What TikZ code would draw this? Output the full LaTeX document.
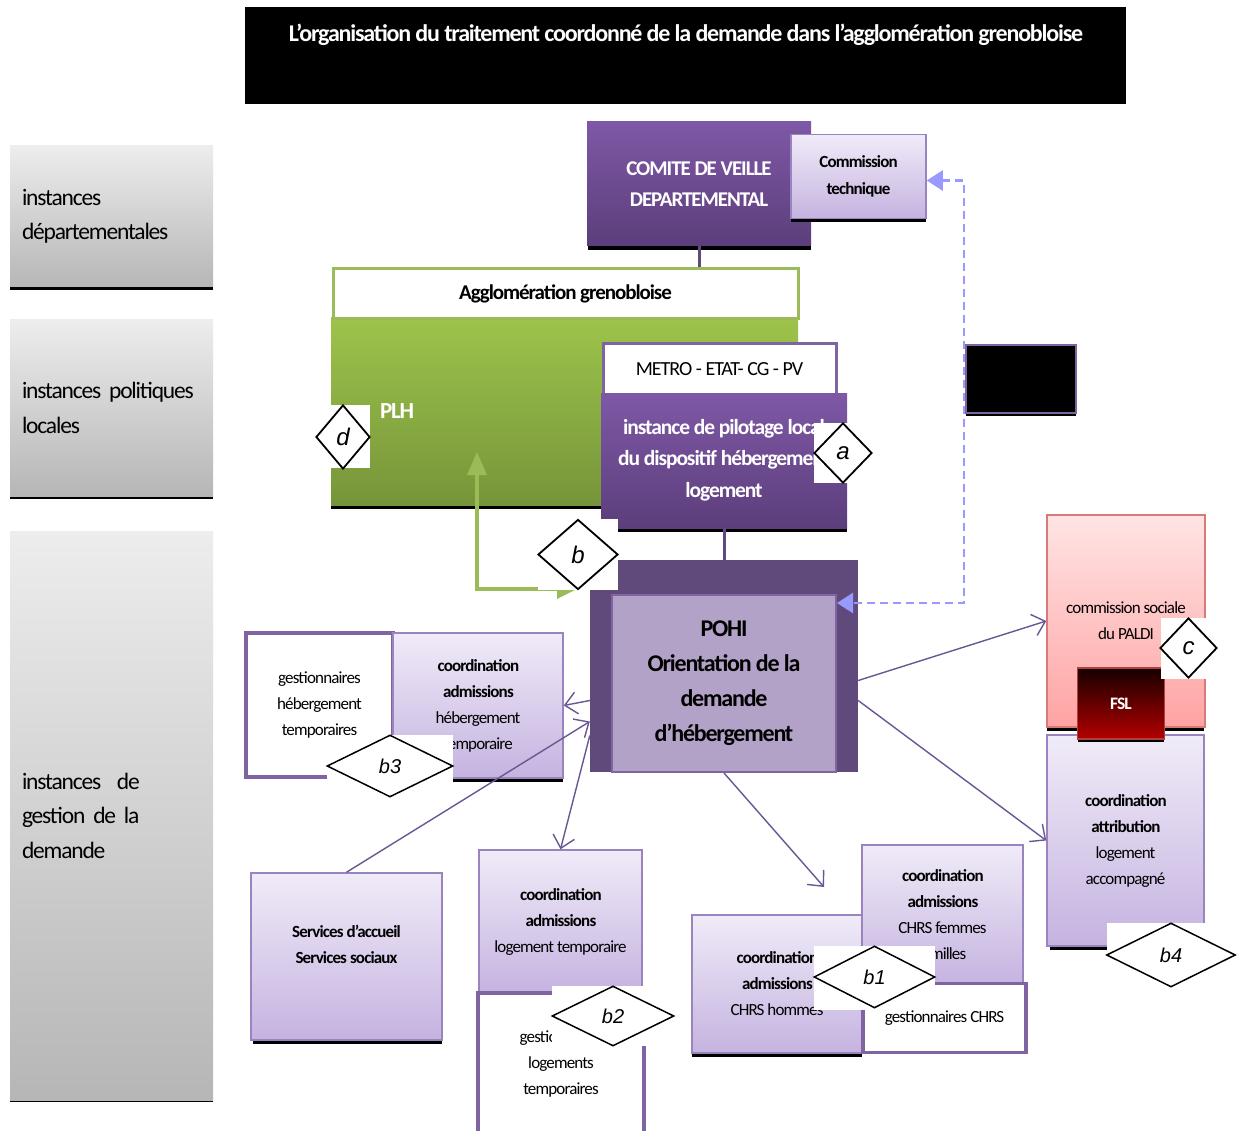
\documentclass[tikz,border=0pt]{standalone}
\usepackage{fontspec}
\setmainfont{Carlito}[LetterSpace=-5]
\newfontfamily\tagfont{Liberation Sans}
\usetikzlibrary{shapes.geometric,arrows.meta,calc}

\definecolor{purT}{HTML}{7E58A6}
\definecolor{purB}{HTML}{5C3E7B}
\definecolor{pohiD}{HTML}{604A7B}
\definecolor{pohiL}{HTML}{B3A2C7}
\definecolor{purD}{HTML}{8064A2}
\definecolor{lavT}{HTML}{F0EBF8}
\definecolor{lavB}{HTML}{C5B3E0}
\definecolor{lavD}{HTML}{9A84BF}
\definecolor{grnT}{HTML}{9DC34B}
\definecolor{grnB}{HTML}{76953A}
\definecolor{grnL}{HTML}{9BBB59}
\definecolor{pnkT}{HTML}{FFE4E4}
\definecolor{pnkB}{HTML}{FFA3A3}
\definecolor{pnkD}{HTML}{D77A7A}
\definecolor{fslT}{HTML}{160000}
\definecolor{fslB}{HTML}{B40000}
\definecolor{fslD}{HTML}{B04040}
\definecolor{grayT}{HTML}{EDEDED}
\definecolor{grayB}{HTML}{B6B6B6}
\definecolor{linkC}{HTML}{6B5694}
\definecolor{dashC}{HTML}{9999FF}

\begin{document}
\begin{tikzpicture}[x=1pt,y=-1pt,
  box/.style={rectangle, inner sep=0pt, align=center},
  level/.style={box, top color=grayT, bottom color=grayB, align=left,
    text width=179pt, inner xsep=12pt, minimum width=203pt,
    font=\fontsize{23.5}{34.5}\selectfont},
  purp/.style={box, top color=purT, bottom color=purB, text=white,
    font=\bfseries\fontsize{21}{31}\selectfont},
  lav/.style={box, top color=lavT, bottom color=lavB, draw=lavD, line width=1.5pt,
    font=\fontsize{17}{26}\selectfont},
  wbox/.style={box, fill=white, draw=purD, line width=3.5pt,
    font=\fontsize{17}{26}\selectfont},
  tag/.style={diamond, draw=black, line width=1.8pt, fill=white, inner sep=0pt,
    font=\tagfont\itshape\fontsize{24}{24}\selectfont},
  tagsmall/.style={tag, line width=1.5pt, font=\tagfont\itshape\fontsize{20}{20}\selectfont},
  conn/.style={draw=pohiD, line width=3pt},
  link/.style={draw=linkC, line width=1.4pt, -{Straight Barb[length=12pt,width=22pt]}},
  shadowbar/.style={fill=black}
]
\useasboundingbox (0,0) rectangle (1242,1131);
\clip (0,0) rectangle (1242,1131);
\fill[white] (0,0) rectangle (1242,1131);

% title banner
\node[box, fill=black, minimum width=881pt, minimum height=97pt] (titlebox) at (685.5,55.5) {};
\node[text=white, font=\bfseries\fontsize{24}{28}\selectfont] (title) at (686,35)
  {L'organisation du traitement coordonné de la demande dans l'agglomération grenobloise};

% level labels on the left
\fill[shadowbar] (10,286) rectangle (213,290);
\node[level, minimum height=141pt] (lvl1) at (111.5,216.5) {instances\\départementales};
\fill[shadowbar] (10,495) rectangle (213,499);
\node[level, minimum height=176pt] (lvl2) at (111.5,408) {instances politiques\\locales};
\fill[shadowbar] (10,1098) rectangle (213,1102);
\node[level, minimum height=569pt] (lvl3) at (111.5,815.5) {instances\ \ de\\gestion de la\\demande};

% departmental committee
\fill[shadowbar] (588,245) rectangle (811,250);
\node[purp, minimum width=224pt, minimum height=124pt] (comite) at (699,184) {COMITE DE VEILLE\\DEPARTEMENTAL};
\fill[shadowbar] (791,217) rectangle (926,222);
\node[lav, font=\bfseries\fontsize{17}{27}\selectfont, minimum width=135pt, minimum height=84pt]
  (ct) at (858.5,176.5) {Commission\\technique};

% local level: PLH and steering body
\fill[shadowbar] (331,503) rectangle (601,509);
\node[box, top color=grnT, bottom color=grnB, minimum width=467pt, minimum height=187pt,
  text width=369pt, inner xsep=49pt, align=left, text=white,
  font=\bfseries\fontsize{23}{27}\selectfont] (plh) at (564.5,411.5) {PLH};
\node[box, fill=white, draw=grnL, line width=3pt, minimum width=465pt, minimum height=50pt,
  font=\bfseries\fontsize{21}{25}\selectfont] (agglo) at (565.5,294) {Agglomération grenobloise};
\draw[conn] (comite.south) -- (comite.south |- agglo.north);

\node[box, fill=white, draw=purD, line width=3pt, minimum width=233pt, minimum height=50pt,
  font=\fontsize{20}{24}\selectfont] (metro) at (719.5,369) {METRO - ETAT- CG - PV};
\fill[shadowbar] (601,526) rectangle (847,532);
\node[box, top color=purT, bottom color=purB, minimum width=246pt, minimum height=135pt] (pilot) at (724,460.5) {};
\node[text=white, align=center, inner sep=0pt, font=\bfseries\fontsize{21.5}{31.5}\selectfont]
  (pilotT) at (724,460) {instance de pilotage local\\du dispositif hébergement\\logement};

% unlabelled black block
\fill[shadowbar] (966,411) rectangle (1076,416);
\node[box, fill=black, draw=purD, line width=2pt, minimum width=110pt, minimum height=68pt] (blk) at (1021,379) {};

% POHI
\node[box, fill=pohiD, minimum width=241pt, minimum height=212pt] (pohitop) at (737.5,666) {};
\node[box, fill=pohiD, minimum width=268pt, minimum height=183pt] (pohiback) at (724,680.5) {};
\draw[conn] (pilot.south) -- (pilot.south |- pohitop.north);
\node[box, fill=pohiL, draw=purD, line width=2pt, minimum width=224pt, minimum height=177pt,
  font=\bfseries\fontsize{24}{35}\selectfont] (pohi) at (724,683.5)
  {POHI\\Orientation de la\\demande\\d'hébergement};

% feedback loop to the technical commission
\coordinate (dturn) at (964,400);
\draw[dashC, line width=2.5pt, dash pattern=on 8pt off 5pt,
  {Triangle[length=16pt,width=20pt]}-{Triangle[length=16pt,width=20pt]}]
  ([yshift=-4pt]ct.east) -| (dturn) |- ([yshift=-9pt]pohi.north east);

% link between POHI and PLH
\coordinate (gEnd) at (577,589);
\coordinate (gTop) at (477,452);
\draw[grnL, line width=3.5pt, {Triangle[length=20pt,width=19pt]}-{Triangle[length=23pt,width=19pt]}]
  (gEnd) -| (gTop);

% PALDI social commission, FSL and supported housing
\fill[shadowbar] (1047,725) rectangle (1204,731);
\node[box, top color=pnkT, bottom color=pnkB, draw=pnkD, line width=1.5pt,
  minimum width=158pt, minimum height=212pt, font=\fontsize{17}{26}\selectfont]
  (csoc) at (1126,621) {commission sociale\\du PALDI};
\fill[shadowbar] (1050,944) rectangle (1108,950);
\node[lav, minimum width=157pt, minimum height=211pt] (attr) at (1125.5,840.5)
  {\textbf{coordination}\\\textbf{attribution}\\logement\\accompagné};
\fill[shadowbar] (1078,737) rectangle (1164,742);
\node[box, top color=fslT, bottom color=fslB, draw=fslD, line width=1.5pt,
  minimum width=87pt, minimum height=71pt, text=white,
  font=\bfseries\fontsize{17.5}{20}\selectfont] (fsl) at (1121,703.5) {FSL};

% temporary accommodation
\node[wbox, minimum width=147pt, minimum height=144pt] (gestH) at (319.5,705)
  {gestionnaires\\hébergement\\temporaires};
\fill[shadowbar] (453,776) rectangle (563,782);
\node[lav, minimum width=170pt, minimum height=145pt] (coordH) at (478,705.5)
  {\textbf{coordination}\\\textbf{admissions}\\hébergement\\temporaire};

% reception and social services
\fill[shadowbar] (253,1038) rectangle (442,1044);
\node[lav, minimum width=191pt, minimum height=167pt] (serv) at (346.5,956.5) {};
\node[align=center, inner sep=0pt, font=\bfseries\fontsize{17}{26}\selectfont]
  (servT) at (346.5,944) {Services d'accueil\\Services sociaux};

% temporary housing
\node[lav, minimum width=163pt, minimum height=143pt] (coordL) at (560.5,921.5)
  {\textbf{coordination}\\\textbf{admissions}\\logement temporaire};
\node[wbox, minimum width=166pt, minimum height=142pt] (gestL) at (561,1064)
  {gestionnaires\\logements\\temporaires};

% CHRS
\fill[shadowbar] (692,1051) rectangle (862,1057);
\node[lav, minimum width=170pt, minimum height=138pt] (chrsH) at (777,984)
  {\textbf{coordination}\\\textbf{admissions}\\CHRS hommes};
\node[lav, minimum width=161pt, minimum height=140pt] (chrsF) at (942.5,915)
  {\textbf{coordination}\\\textbf{admissions}\\CHRS femmes\\familles};
\node[wbox, minimum width=163pt, minimum height=69pt] (gestC) at (944.5,1018) {gestionnaires CHRS};

% orientation links from POHI
\coordinate (chrsIn) at (824,887);
\draw[link] (pohiback.east) -- (csoc.west);
\draw[link] ([yshift=-20pt]pohiback.east) -- (attr.west);
\draw[link] (pohi.south) -- (chrsIn);
\draw[link] ([yshift=-20pt]pohiback.west) -- (coordH.east);
\draw[link] (serv.north) -- ([yshift=-41pt]pohiback.west);
\draw[link] ([yshift=-55pt]pohiback.west) -- (coordL.north);

% diamond markers
\fill[white] (814,423) rectangle (872,483);
\node[tag, minimum width=58pt, minimum height=60pt] (tagA) at (843,453) {a};
\fill[white] (330,405) rectangle (370,468);
\node[tag, minimum width=54pt, minimum height=64pt] (tagD) at (343,437) {d};
\fill[white] (538,519) rectangle (618,590);
\node[tag, minimum width=80pt, minimum height=70pt] (tagB) at (578,554.5) {b};
\fill[white] (1161,618) rectangle (1215,679);
\node[tag, minimum width=57pt, minimum height=60pt] (tagC) at (1188.5,648) {c};
\fill[white] (1107,923) rectangle (1210,988);
\node[tagsmall, minimum width=129pt, minimum height=64pt] (tagB4) at (1171,955) {b4};
\fill[white] (327,735) rectangle (453,797);
\node[tagsmall, minimum width=126pt, minimum height=62pt] (tagB3) at (390,766) {b3};
\fill[white] (552,986) rectangle (646,1046);
\node[tagsmall, minimum width=122pt, minimum height=60pt] (tagB2) at (613,1016) {b2};
\fill[white] (814,946) rectangle (935,1010);
\node[tagsmall, minimum width=121pt, minimum height=62pt] (tagB1) at (874.5,977) {b1};
\end{tikzpicture}
\end{document}
